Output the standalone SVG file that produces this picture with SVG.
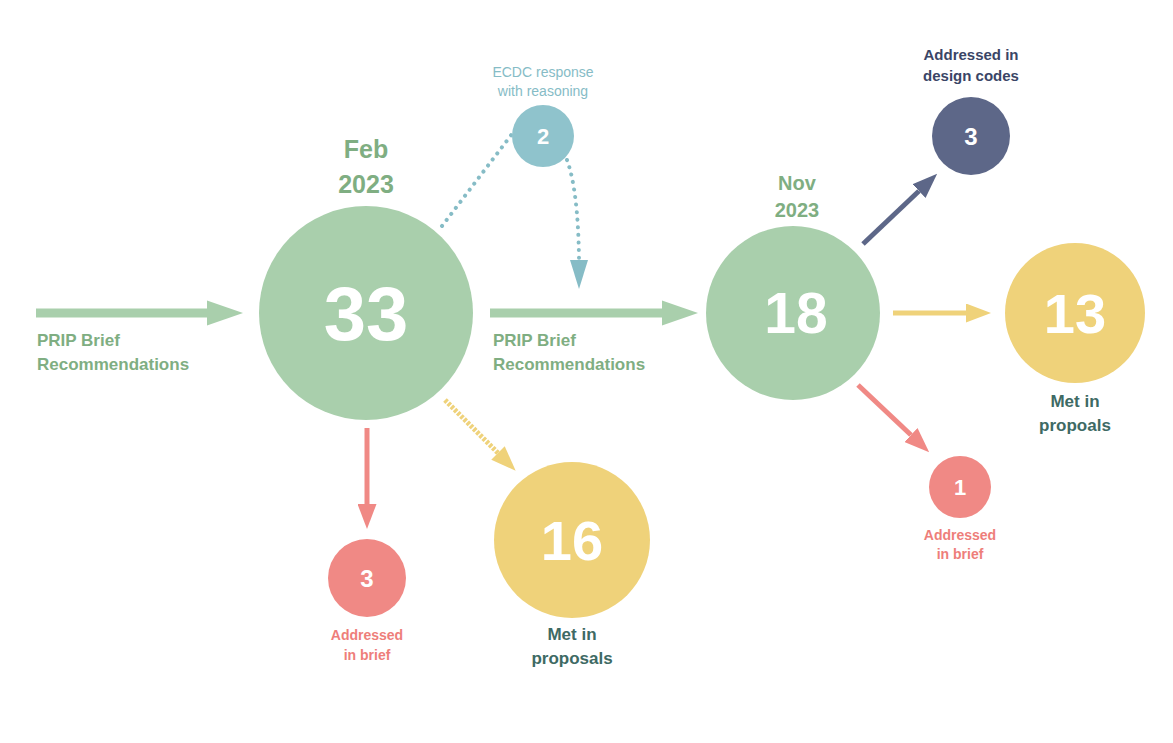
<svg xmlns="http://www.w3.org/2000/svg" width="1173" height="743" viewBox="0 0 1173 743">
<defs>
<style>
text{font-family:"Liberation Sans",Arial,sans-serif;font-weight:bold;text-anchor:middle}
.num{fill:#ffffff}
.green{fill:#7fae82}
.teal{fill:#86bcc6}
.navy{fill:#3a4566}
.red{fill:#ee7e7a}
.dark{fill:#3e6a64}
</style>
<marker id="ag" viewBox="0 0 10 10" preserveAspectRatio="none" refX="0" refY="5" markerWidth="4" markerHeight="2.8" markerUnits="strokeWidth" orient="auto"><path d="M0,0 L10,5 L0,10 z" fill="#a9cfac"/></marker>
<marker id="ar" viewBox="0 0 10 10" preserveAspectRatio="none" refX="0" refY="5" markerWidth="5" markerHeight="3.8" markerUnits="strokeWidth" orient="auto"><path d="M0,0 L10,5 L0,10 z" fill="#f08985"/></marker>
<marker id="ay" viewBox="0 0 10 10" preserveAspectRatio="none" refX="0" refY="5" markerWidth="5" markerHeight="3.8" markerUnits="strokeWidth" orient="auto"><path d="M0,0 L10,5 L0,10 z" fill="#efd27a"/></marker>
<marker id="an" viewBox="0 0 10 10" preserveAspectRatio="none" refX="0" refY="5" markerWidth="5" markerHeight="3.8" markerUnits="strokeWidth" orient="auto"><path d="M0,0 L10,5 L0,10 z" fill="#5d6788"/></marker>
</defs>
<rect width="1173" height="743" fill="#ffffff"/>
<g id="connectors">
<line x1="36" y1="313" x2="207" y2="313" stroke="#a9cfac" stroke-width="9" marker-end="url(#ag)"/>
<line x1="490" y1="313" x2="662" y2="313" stroke="#a9cfac" stroke-width="9" marker-end="url(#ag)"/>
<path d="M442,226 L512,134" fill="none" stroke="#86bcc6" stroke-width="4" stroke-linecap="round" stroke-dasharray="0.1 7.5"/>
<path d="M567,160 Q578,190 579,258" fill="none" stroke="#86bcc6" stroke-width="4" stroke-linecap="round" stroke-dasharray="0.1 7.5"/>
<polygon points="570,260 588,260 579,289" fill="#86bcc6"/>
<line x1="367" y1="428" x2="367" y2="504" stroke="#f08985" stroke-width="5" marker-end="url(#ar)"/>
<line x1="445" y1="400" x2="498" y2="453" stroke="#efd27a" stroke-width="5" stroke-dasharray="3 1.5" marker-end="url(#ay)"/>
<line x1="863" y1="244" x2="919" y2="191" stroke="#5d6788" stroke-width="5" marker-end="url(#an)"/>
<line x1="893" y1="313" x2="966" y2="313" stroke="#efd27a" stroke-width="5" marker-end="url(#ay)"/>
<line x1="858" y1="385" x2="911" y2="435" stroke="#f08985" stroke-width="5" marker-end="url(#ar)"/>
</g>
<g id="in-label">
<text class="green" font-size="17" x="37" y="346" style="text-anchor:start">PRIP Brief</text>
<text class="green" font-size="17" x="37" y="370" style="text-anchor:start">Recommendations</text>
</g>
<g id="mid-label">
<text class="green" font-size="17" x="493" y="346" style="text-anchor:start">PRIP Brief</text>
<text class="green" font-size="17" x="493" y="370" style="text-anchor:start">Recommendations</text>
</g>
<g id="node-33">
<circle cx="366" cy="313" r="107" fill="#a9cfac"/>
<text class="num" font-size="76" x="366" y="340">33</text>
<text class="green" font-size="25" x="366" y="158">Feb</text>
<text class="green" font-size="25" x="366" y="193">2023</text>
</g>
<g id="node-2">
<circle cx="543" cy="136" r="31" fill="#8fc3cc"/>
<text class="num" font-size="22" x="543" y="144">2</text>
<text class="teal" font-size="14" x="543" y="77" style="font-weight:normal">ECDC response</text>
<text class="teal" font-size="14" x="543" y="96" style="font-weight:normal">with reasoning</text>
</g>
<g id="node-3-red">
<circle cx="367" cy="578" r="39" fill="#f08985"/>
<text class="num" font-size="24" x="367" y="587">3</text>
<text class="red" font-size="14" x="367" y="640">Addressed</text>
<text class="red" font-size="14" x="367" y="660">in brief</text>
</g>
<g id="node-16">
<circle cx="572" cy="540" r="78" fill="#efd27a"/>
<text class="num" font-size="56" x="572" y="560">16</text>
<text class="dark" font-size="17" x="572" y="640">Met in</text>
<text class="dark" font-size="17" x="572" y="664">proposals</text>
</g>
<g id="node-18">
<circle cx="793" cy="313" r="87" fill="#a9cfac"/>
<text class="num" font-size="57" x="796" y="333">18</text>
<text class="green" font-size="20" x="797" y="190">Nov</text>
<text class="green" font-size="20" x="797" y="217">2023</text>
</g>
<g id="node-3-navy">
<circle cx="971" cy="136" r="39" fill="#5d6788"/>
<text class="num" font-size="24" x="971" y="145">3</text>
<text class="navy" font-size="15" x="971" y="60">Addressed in</text>
<text class="navy" font-size="15" x="971" y="81">design codes</text>
</g>
<g id="node-13">
<circle cx="1075" cy="313" r="70" fill="#efd27a"/>
<text class="num" font-size="56" x="1075" y="333">13</text>
<text class="dark" font-size="17" x="1075" y="407">Met in</text>
<text class="dark" font-size="17" x="1075" y="431">propoals</text>
</g>
<g id="node-1">
<circle cx="960" cy="487" r="31" fill="#f08985"/>
<text class="num" font-size="22" x="960" y="495">1</text>
<text class="red" font-size="14" x="960" y="540">Addressed</text>
<text class="red" font-size="14" x="960" y="559">in brief</text>
</g>
</svg>
